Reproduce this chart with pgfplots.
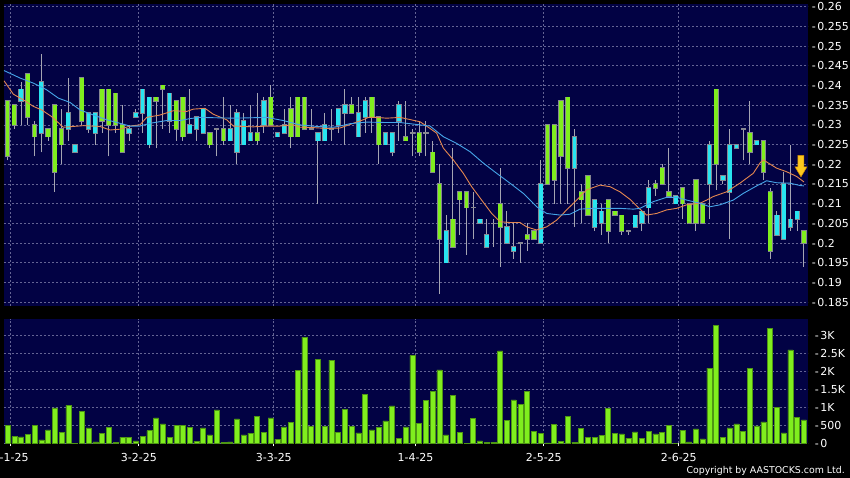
\documentclass[border=0pt]{standalone}
\usepackage{pgfplots}
\pgfplotsset{compat=1.18}
\usepackage{pgfplotstable}
\usepackage{fontspec}
\setmainfont{DejaVu Sans}

\definecolor{navy}{RGB}{2,2,68}
\definecolor{gridc}{RGB}{100,100,148}
\definecolor{lime}{RGB}{128,238,30}
\definecolor{limeedge}{RGB}{78,150,20}
\definecolor{cyanb}{RGB}{40,228,240}
\definecolor{edgegray}{RGB}{135,135,145}
\definecolor{wick}{RGB}{165,165,178}
\definecolor{maorange}{RGB}{228,135,80}
\definecolor{mablue}{RGB}{70,165,232}
\definecolor{arrowfill}{RGB}{252,200,30}
\definecolor{arrowedge}{RGB}{205,135,0}

\pgfdeclareplotmark{darrow}{%
  \pgfpathmoveto{\pgfpoint{0pt}{0pt}}%
  \pgfpathlineto{\pgfpoint{6pt}{10pt}}%
  \pgfpathlineto{\pgfpoint{3pt}{10pt}}%
  \pgfpathlineto{\pgfpoint{3pt}{21.5pt}}%
  \pgfpathlineto{\pgfpoint{-3pt}{21.5pt}}%
  \pgfpathlineto{\pgfpoint{-3pt}{10pt}}%
  \pgfpathlineto{\pgfpoint{-6pt}{10pt}}%
  \pgfpathclose
  \pgfusepathqfillstroke}

\pgfplotstableread{
i top bot hi lo c
0 0.236 0.222 0.236 0.221 0
1 0.235 0.230 0.235 0.229 0
2 0.239 0.236 0.241 0.230 1
3 0.243 0.232 0.243 0.230 0
4 0.230 0.227 0.231 0.222 0
5 0.241 0.228 0.248 0.223 1
6 0.229 0.227 0.229 0.226 0
7 0.235 0.218 0.235 0.213 0
8 0.229 0.225 0.234 0.220 0
9 0.233 0.229 0.242 0.226 1
10 0.225 0.223 0.225 0.223 1
11 0.242 0.231 0.242 0.230 0
12 0.233 0.229 0.233 0.228 1
13 0.233 0.228 0.233 0.225 1
14 0.239 0.231 0.239 0.228 0
15 0.239 0.230 0.239 0.222 0
16 0.238 0.230 0.238 0.228 0
17 0.230 0.223 0.235 0.223 0
18 0.229 0.228 0.230 0.226 1
19 0.233 0.232 0.234 0.232 1
20 0.239 0.233 0.239 0.228 1
21 0.237 0.225 0.237 0.224 1
22 0.237 0.236 0.237 0.224 0
23 0.240 0.239 0.240 0.229 0
24 0.238 0.231 0.238 0.228 1
25 0.236 0.229 0.236 0.226 0
26 0.237 0.227 0.237 0.226 0
27 0.230 0.228 0.239 0.228 1
28 0.232 0.229 0.232 0.226 1
29 0.234 0.228 0.234 0.228 1
30 0.228 0.225 0.228 0.224 0
31 0.229 0.229 0.229 0.222 2
32 0.229 0.226 0.237 0.225 0
33 0.229 0.226 0.235 0.226 1
34 0.233 0.223 0.234 0.220 1
35 0.231 0.225 0.233 0.225 1
36 0.228 0.226 0.235 0.226 1
37 0.228 0.226 0.238 0.225 0
38 0.236 0.230 0.237 0.228 1
39 0.237 0.230 0.240 0.230 0
40 0.228 0.227 0.228 0.227 1
41 0.230 0.228 0.234 0.228 1
42 0.234 0.227 0.237 0.224 0
43 0.237 0.227 0.237 0.227 0
44 0.237 0.229 0.237 0.229 0
45 0.229 0.229 0.234 0.229 2
46 0.228 0.226 0.228 0.210 1
47 0.230 0.226 0.233 0.226 1
48 0.229 0.229 0.234 0.226 2
49 0.234 0.230 0.234 0.228 1
50 0.235 0.233 0.239 0.225 1
51 0.235 0.233 0.237 0.233 0
52 0.233 0.227 0.237 0.227 1
53 0.236 0.232 0.237 0.228 1
54 0.237 0.232 0.237 0.228 0
55 0.232 0.225 0.232 0.220 0
56 0.228 0.225 0.228 0.225 1
57 0.228 0.223 0.228 0.222 1
58 0.235 0.231 0.236 0.226 1
59 0.227 0.226 0.236 0.226 0
60 0.228 0.228 0.229 0.222 2
61 0.228 0.223 0.231 0.222 0
62 0.228 0.228 0.231 0.222 2
63 0.223 0.218 0.226 0.218 0
64 0.215 0.201 0.220 0.187 0
65 0.203 0.195 0.207 0.195 1
66 0.206 0.199 0.224 0.199 0
67 0.213 0.211 0.213 0.202 0
68 0.213 0.209 0.213 0.197 0
69 0.209 0.209 0.213 0.201 2
70 0.206 0.205 0.206 0.205 1
71 0.202 0.199 0.206 0.199 1
72 0.205 0.205 0.206 0.199 2
73 0.210 0.204 0.219 0.194 0
74 0.204 0.200 0.208 0.200 1
75 0.199 0.198 0.205 0.196 1
76 0.200 0.200 0.200 0.195 2
77 0.202 0.201 0.205 0.198 0
78 0.203 0.201 0.203 0.201 0
79 0.215 0.200 0.221 0.200 1
80 0.230 0.215 0.230 0.215 0
81 0.230 0.216 0.230 0.210 0
82 0.236 0.222 0.236 0.210 0
83 0.237 0.219 0.237 0.210 0
84 0.227 0.219 0.229 0.204 1
85 0.213 0.211 0.215 0.205 0
86 0.217 0.207 0.217 0.207 0
87 0.211 0.204 0.211 0.203 1
88 0.208 0.205 0.210 0.202 1
89 0.211 0.203 0.211 0.200 0
90 0.208 0.207 0.208 0.207 0
91 0.207 0.203 0.207 0.202 0
92 0.203 0.203 0.203 0.202 2
93 0.207 0.204 0.207 0.204 1
94 0.208 0.205 0.208 0.203 1
95 0.214 0.209 0.216 0.205 1
96 0.215 0.214 0.216 0.212 0
97 0.219 0.215 0.220 0.215 0
98 0.213 0.212 0.224 0.212 0
99 0.212 0.210 0.212 0.210 1
100 0.214 0.210 0.214 0.206 0
101 0.210 0.205 0.210 0.205 0
102 0.216 0.205 0.216 0.203 0
103 0.210 0.205 0.210 0.205 0
104 0.225 0.215 0.226 0.206 1
105 0.239 0.220 0.239 0.2135 0
106 0.217 0.216 0.217 0.215 1
107 0.225 0.213 0.229 0.201 1
108 0.225 0.224 0.225 0.224 1
109 0.229 0.229 0.229 0.221 2
110 0.228 0.223 0.236 0.220 0
111 0.226 0.225 0.226 0.225 1
112 0.226 0.218 0.226 0.216 0
113 0.213 0.198 0.214 0.196 0
114 0.207 0.202 0.208 0.202 1
115 0.215 0.201 0.218 0.201 1
116 0.206 0.204 0.225 0.203 1
117 0.208 0.206 0.208 0.203 1
118 0.203 0.200 0.203 0.194 0
}\candles

\pgfplotstableread{
i vol
0 500
1 194
2 185
3 259
4 509
5 102
6 380
7 991
8 315
9 1056
10 10
11 898
12 435
13 46
14 278
15 454
16 37
17 176
18 167
19 74
20 204
21 361
22 713
23 546
24 176
25 509
26 509
27 444
28 56
29 435
30 241
31 935
32 37
33 46
34 685
35 241
36 287
37 759
38 315
39 713
40 120
41 463
42 593
43 2037
44 2954
45 482
46 2343
47 482
48 2315
49 306
50 954
51 472
52 296
53 1370
54 380
55 454
56 630
57 1046
58 139
59 463
60 2445
61 556
62 1194
63 1444
64 2046
65 241
66 1333
67 306
68 10
69 704
70 74
71 37
72 37
73 2574
74 639
75 1213
76 1083
77 1454
78 333
79 287
80 18
81 528
82 56
83 750
84 28
85 417
86 167
87 167
88 222
89 982
90 278
91 269
92 148
93 324
94 148
95 343
96 269
97 315
98 509
99 0
100 370
101 46
102 407
103 130
104 2093
105 3287
106 176
107 435
108 546
109 343
110 2093
111 491
112 602
113 3194
114 1009
115 296
116 2602
117 722
118 657
}\volumes

\pgfplotsset{
  chartbase/.style={
    scale only axis, anchor=south west,
    width=804pt,
    xmin=-0.52, xmax=118.6,
    axis background/.style={fill=navy},
    axis line style={draw=none},
    xtick={0.45,19.45,39.45,60.45,79.45,99.45},
    grid=major,
    major grid style={gridc, dash pattern=on 2pt off 2pt, line width=0.7pt},
    ytick pos=right, yticklabel pos=right,
    ytick style={draw=none},
    yticklabel style={anchor=west, inner sep=0pt, xshift=3.7pt, text=white, font=\fontsize{11}{13}\selectfont},
  },
  body/.style={draw=none, mark=none,
    error bars/y dir=plus, error bars/y explicit, error bars/error mark=none,
    error bars/error bar style={#1}},
}

\begin{document}
\begin{tikzpicture}[x=1pt,y=1pt]
\useasboundingbox (0,0) rectangle (850,478);
\fill[black] (0,0) rectangle (850,478);

\begin{axis}[chartbase,
  at={(4pt,172pt)}, height=302pt,
  ymin=0.1840, ymax=0.2607,
  xticklabels={}, xtick style={draw=none},
  ytick={0.185,0.19,0.195,0.2,0.205,0.21,0.215,0.22,0.225,0.23,0.235,0.24,0.245,0.25,0.255,0.26},
  yticklabels={-\hspace{1.5pt}0.185,-\hspace{1.5pt}0.19,-\hspace{1.5pt}0.195,-\hspace{1.5pt}0.2,-\hspace{1.5pt}0.205,-\hspace{1.5pt}0.21,-\hspace{1.5pt}0.215,-\hspace{1.5pt}0.22,-\hspace{1.5pt}0.225,-\hspace{1.5pt}0.23,-\hspace{1.5pt}0.235,-\hspace{1.5pt}0.24,-\hspace{1.5pt}0.245,-\hspace{1.5pt}0.25,-\hspace{1.5pt}0.255,-\hspace{1.5pt}0.26},
]
% wicks
\addplot [body={draw=wick, line width=1pt}]
  table [x=i, y=lo, y error plus expr=\thisrow{hi}-\thisrow{lo}] {\candles};
% body outlines (also dojis)
\addplot [body={draw=edgegray, line width=5.2pt}]
  table [x=i, y expr=\thisrow{bot}-0.0002, y error plus expr=\thisrow{top}-\thisrow{bot}+0.0004] {\candles};
% green bodies
\addplot [restrict expr to domain={\thisrow{c}}{0:0}, body={draw=lime, line width=3.8pt}]
  table [x=i, y=bot, y error plus expr=\thisrow{top}-\thisrow{bot}] {\candles};
% cyan bodies
\addplot [restrict expr to domain={\thisrow{c}}{1:1}, body={draw=cyanb, line width=3.8pt}]
  table [x=i, y=bot, y error plus expr=\thisrow{top}-\thisrow{bot}] {\candles};
% moving averages
\addplot [maorange, line width=0.9pt, mark=none] coordinates {
(-0.52,0.2412) (0.86,0.2378) (2.59,0.2361) (3.83,0.2347) (5.06,0.2338) (6.54,0.2321) (8.27,0.2294) (9.75,0.2296) (11.23,0.2298) (13.70,0.2296) (15.19,0.2287) (16.67,0.2289) (18.15,0.2297) (19.63,0.2300) (20.62,0.2319) (22.59,0.2325) (24.57,0.2336) (26.54,0.2334) (27.53,0.2340) (29.26,0.2342) (30.49,0.2327) (32.47,0.2313) (33.46,0.2297) (34.94,0.2296) (36.42,0.2295) (38.40,0.2297) (40.37,0.2297) (42.35,0.2300) (43.33,0.2294) (45.31,0.2293) (47.28,0.2291) (49.26,0.2292) (51.23,0.2304) (52.72,0.2313) (53.46,0.2319) (54.69,0.2319) (56.17,0.2317) (58.15,0.2319) (61.11,0.2308) (62.59,0.2291) (63.58,0.2279) (64.57,0.2241) (66.05,0.2211) (67.53,0.2177) (68.77,0.2143) (70.25,0.2109) (71.73,0.2075) (72.96,0.2054) (74.44,0.2052) (75.93,0.2052) (76.91,0.2041) (78.40,0.2033) (79.88,0.2041) (81.36,0.2058) (82.84,0.2084) (84.32,0.2109) (85.80,0.2135) (87.78,0.2147) (89.26,0.2143) (90.74,0.2130) (92.22,0.2111) (93.70,0.2086) (94.69,0.2071) (96.17,0.2075) (97.65,0.2084) (99.14,0.2088) (100.62,0.2097) (102.59,0.2101) (103.58,0.2109) (104.57,0.2118) (106.54,0.2130) (108.52,0.2152) (110.49,0.2177) (111.48,0.2203) (111.98,0.2211) (113.95,0.2190) (115.43,0.2181) (116.91,0.2169) (118,0.2155)
};
\addplot [mablue, line width=0.9pt, mark=none] coordinates {
(-0.52,0.2438) (1.85,0.2419) (3.83,0.2406) (5.80,0.2389) (7.53,0.2368) (9.26,0.2357) (10.74,0.2338) (12.72,0.2325) (14.69,0.2313) (16.67,0.2304) (18.15,0.2297) (19.63,0.2297) (21.11,0.2304) (23.58,0.2311) (25.56,0.2311) (27.04,0.2316) (28.52,0.2319) (33.46,0.2317) (38.40,0.2319) (40.86,0.2311) (43.33,0.2300) (45.80,0.2296) (48.27,0.2294) (49.26,0.2297) (50.74,0.2303) (53.21,0.2307) (56.17,0.2306) (58.15,0.2306) (61.11,0.2300) (62.59,0.2297) (64.57,0.2270) (66.54,0.2253) (68.52,0.2232) (70.49,0.2203) (72.47,0.2177) (74.44,0.2152) (76.42,0.2126) (78.40,0.2092) (79.88,0.2075) (81.85,0.2071) (83.33,0.2073) (84.81,0.2086) (86.79,0.2088) (88.77,0.2088) (90.74,0.2088) (92.72,0.2086) (93.70,0.2088) (95.68,0.2105) (97.65,0.2116) (99.14,0.2116) (100.62,0.2109) (102.59,0.2101) (104.07,0.2092) (105.56,0.2097) (107.53,0.2109) (109.01,0.2126) (110.99,0.2145) (112.47,0.2158) (113.95,0.2153) (115.93,0.2152) (117.41,0.2146) (118,0.2145)
};
% marker arrow at last session
\addplot [only marks, mark=darrow, mark options={fill=arrowfill, draw=arrowedge, line width=0.5pt}] coordinates {(117.56,0.2168)};
\end{axis}

\begin{axis}[chartbase,
  at={(4pt,34.5pt)}, height=124.2pt,
  ymin=0, ymax=3450,
  xticklabels={2-1-25,3-2-25,3-3-25,1-4-25,2-5-25,2-6-25},
  xtick pos=bottom, tick align=outside, major tick length=3pt,
  xtick style={draw=white, line width=0.8pt},
  xticklabel style={anchor=base, inner sep=0pt, yshift=-15pt, text=white, font=\fontsize{11}{13}\selectfont},
  ytick={0,500,1000,1500,2000,2500,3000},
  yticklabels={-\hspace{1.5pt}0,-\hspace{1.5pt}500,-\hspace{1.5pt}1K,-\hspace{1.5pt}1.5K,-\hspace{1.5pt}2K,-\hspace{1.5pt}2.5K,-\hspace{1.5pt}3K},
]
\addplot [ybar, bar width=5pt, fill=lime, draw=limeedge, line width=0.5pt] table [x=i, y=vol] {\volumes};
\end{axis}

\node[anchor=base east, text=white, font=\fontsize{9.4}{11}\selectfont, inner sep=0pt] at (845,4) {Copyright by AASTOCKS.com Ltd.};
\end{tikzpicture}
\end{document}
